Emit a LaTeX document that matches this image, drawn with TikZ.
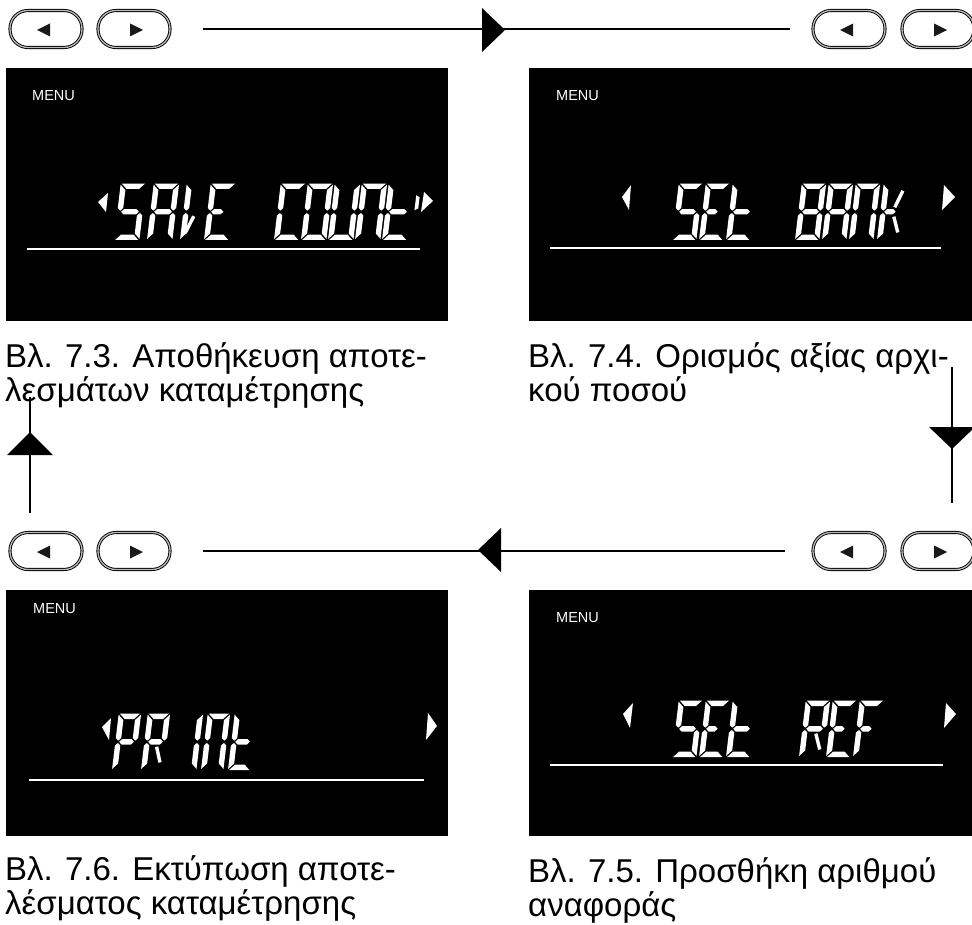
\documentclass[tikz,border=0pt]{standalone}
\usepackage{fontspec}
\setmainfont{Liberation Sans}
\usetikzlibrary{calc}
% LCD segment geometry
\def\lcdW{20}
\def\lcdH{51}
\def\lcdhh{2.7}
\def\lcdgp{1.1}
\def\lcdslant{0.12}
\newcommand\lcdHseg[3]{\fill[white] ({#1+\lcdgp},{#3}) -- ({#1+\lcdgp+\lcdhh},{#3+\lcdhh}) -- ({#2-\lcdgp-\lcdhh},{#3+\lcdhh}) -- ({#2-\lcdgp},{#3}) -- ({#2-\lcdgp-\lcdhh},{#3-\lcdhh}) -- ({#1+\lcdgp+\lcdhh},{#3-\lcdhh}) -- cycle;}
\newcommand\lcdDseg[4]{\draw[white, line width=3.4pt, shorten <=5pt, shorten >=5pt] (#1,#2) -- (#3,#4);}
% mitred outer segments
\newcommand\lcdSa{\fill[white] ({-\lcdhh+\lcdgp},{\lcdH+\lcdhh}) -- ({\lcdW+\lcdhh-\lcdgp},{\lcdH+\lcdhh}) -- ({\lcdW-\lcdhh-\lcdgp},{\lcdH-\lcdhh}) -- ({\lcdhh+\lcdgp},{\lcdH-\lcdhh}) -- cycle;}
\newcommand\lcdSd{\fill[white] ({-\lcdhh+\lcdgp},{-\lcdhh}) -- ({\lcdW+\lcdhh-\lcdgp},{-\lcdhh}) -- ({\lcdW-\lcdhh-\lcdgp},{\lcdhh}) -- ({\lcdhh+\lcdgp},{\lcdhh}) -- cycle;}
\newcommand\lcdSf{\fill[white] ({-\lcdhh},{\lcdH+\lcdhh-\lcdgp}) -- ({\lcdhh},{\lcdH-\lcdhh-\lcdgp}) -- ({\lcdhh},{\lcdH/2+\lcdgp+\lcdhh}) -- (0,{\lcdH/2+\lcdgp}) -- ({-\lcdhh},{\lcdH/2+\lcdgp+\lcdhh}) -- cycle;}
\newcommand\lcdSe{\fill[white] ({-\lcdhh},{-\lcdhh+\lcdgp}) -- ({\lcdhh},{\lcdhh+\lcdgp}) -- ({\lcdhh},{\lcdH/2-\lcdgp-\lcdhh}) -- (0,{\lcdH/2-\lcdgp}) -- ({-\lcdhh},{\lcdH/2-\lcdgp-\lcdhh}) -- cycle;}
\newcommand\lcdSb{\fill[white] ({\lcdW+\lcdhh},{\lcdH+\lcdhh-\lcdgp}) -- ({\lcdW-\lcdhh},{\lcdH-\lcdhh-\lcdgp}) -- ({\lcdW-\lcdhh},{\lcdH/2+\lcdgp+\lcdhh}) -- (\lcdW,{\lcdH/2+\lcdgp}) -- ({\lcdW+\lcdhh},{\lcdH/2+\lcdgp+\lcdhh}) -- cycle;}
\newcommand\lcdSc{\fill[white] ({\lcdW+\lcdhh},{-\lcdhh+\lcdgp}) -- ({\lcdW-\lcdhh},{\lcdhh+\lcdgp}) -- ({\lcdW-\lcdhh},{\lcdH/2-\lcdgp-\lcdhh}) -- (\lcdW,{\lcdH/2-\lcdgp}) -- ({\lcdW+\lcdhh},{\lcdH/2-\lcdgp-\lcdhh}) -- cycle;}
\newcommand\lcdSg{\lcdHseg{0}{\lcdW}{\lcdH/2}}
\newcommand\lcdSgs{\lcdHseg{0}{0.72*\lcdW}{\lcdH/2}}
\newcommand\lcdSj{\lcdDseg{\lcdW/2}{\lcdH/2}{\lcdW}{\lcdH}}
\newcommand\lcdSk{\lcdDseg{0}{0}{\lcdW/2}{\lcdH/2}}
\newcommand\lcdSm{\lcdDseg{\lcdW/2}{\lcdH/2}{\lcdW}{0}}
% letters
\newcommand\lcdLS{\lcdSa\lcdSf\lcdSg\lcdSc\lcdSd}
\newcommand\lcdLA{\lcdSa\lcdSb\lcdSc\lcdSe\lcdSf\lcdSg}
\newcommand\lcdLV{\lcdSf\lcdSe\lcdSk}
\newcommand\lcdLE{\lcdSa\lcdSf\lcdSe\lcdSd\lcdSgs}
\newcommand\lcdLC{\lcdSa\lcdSf\lcdSe\lcdSd}
\newcommand\lcdLO{\lcdSa\lcdSb\lcdSc\lcdSd\lcdSe\lcdSf}
\newcommand\lcdLU{\lcdSb\lcdSc\lcdSd\lcdSe\lcdSf}
\newcommand\lcdLN{\lcdSa\lcdSb\lcdSc\lcdSe\lcdSf}
\newcommand\lcdLt{\lcdSf\lcdSe\lcdSg\lcdSd}
\newcommand\lcdLB{\lcdSa\lcdSb\lcdSc\lcdSd\lcdSe\lcdSf\lcdSg}
\newcommand\lcdLK{\lcdSf\lcdSe\lcdSgs\lcdSj\lcdSm}
\newcommand\lcdLP{\lcdSa\lcdSb\lcdSf\lcdSg\lcdSe}
\newcommand\lcdLR{\lcdSa\lcdSb\lcdSf\lcdSg\lcdSe\lcdSm}
\newcommand\lcdLI{\lcdSb\lcdSc}
\newcommand\lcdLF{\lcdSa\lcdSf\lcdSe\lcdSgs}
\newcommand\lcdTick{\fill[white] (-1.8,27) -- (1.8,29) -- (1.8,40) -- (-1.8,42) -- cycle;}
\newcommand\lcdChar[3]{\begin{scope}[shift={(#1,#2)}, x={(1pt,0pt)}, y={(\lcdslant pt,1pt)}]#3\end{scope}}
\begin{document}
\begin{tikzpicture}[x=1pt,y=-1pt,
  btn/.style={draw=black, line width=0.9pt, double=gray!55, double distance=1.3pt, rounded corners=18pt, minimum width=72pt, minimum height=37pt, inner sep=0pt},
  conn/.style={line width=2pt, black},
  head/.style={fill=black},
  screen/.style={fill=black},
  lcdrule/.style={white, line width=2pt},
  menu/.style={text=white, font=\fontsize{14.5}{16}\selectfont, anchor=base west, inner sep=0pt},
  captxt/.style={font=\fontsize{33}{35}\selectfont, anchor=base west, inner sep=0pt},
  ptr/.style={fill=white},
  tri/.style={fill=black!90}]
\useasboundingbox (0,0) rectangle (972,925);

% screens
\fill[screen] (6,68) rectangle (448,321);
\fill[screen] (529,68) rectangle (972,321);
\fill[screen] (6,590) rectangle (448,836);
\fill[screen] (529,590) rectangle (972,836);

% MENU labels
\node[menu] (m1) at (32,101) {MENU};
\node[menu] (m2) at (556,101) {MENU};
\node[menu] (m3) at (33,613) {MENU};
\node[menu] (m4) at (556,622) {MENU};

% underlines
\draw[lcdrule] (27,249) -- (420,249);
\draw[lcdrule] (550,248) -- (941,248);
\draw[lcdrule] (29,780) -- (424,780);
\draw[lcdrule] (550,765) -- (943,765);

% pointers
\fill[ptr] (108,193) -- (98,202) -- (106,212) -- cycle;
\fill[ptr] (424,192) -- (433,201) -- (421,212) -- cycle;
\fill[ptr] (631,185) -- (622,197) -- (629,210) -- cycle;
\fill[ptr] (944,185) -- (955,197) -- (942,210) -- cycle;
\fill[ptr] (111,718) -- (102,727) -- (109,740) -- cycle;
\fill[ptr] (428,713) -- (437,726) -- (426,740) -- cycle;
\fill[ptr] (633,703) -- (623,714) -- (630,728) -- cycle;
\fill[ptr] (946,703) -- (956,714) -- (944,728) -- cycle;

% SAVE COUNT
\def\lcdW{20}
\lcdChar{117}{237.3}{\lcdLS}
\lcdChar{150}{237.3}{\lcdLA}
\lcdChar{183}{237.3}{\lcdLV}
\lcdChar{207}{237.3}{\lcdLE}
\lcdChar{277}{237.3}{\lcdLC}
\lcdChar{304}{237.3}{\lcdLO}
\lcdChar{331}{237.3}{\lcdLU}
\lcdChar{358}{237.3}{\lcdLN}
\lcdChar{385}{237.3}{\lcdLt}
\lcdChar{413}{237.3}{\lcdTick}
% SEt BANK
\def\lcdW{19}
\lcdChar{675}{237.3}{\lcdLS}
\lcdChar{702}{237.3}{\lcdLE}
\lcdChar{729}{237.3}{\lcdLt}
\lcdChar{798}{237.3}{\lcdLB}
\lcdChar{825}{237.3}{\lcdLA}
\lcdChar{852}{237.3}{\lcdLN}
\lcdChar{880}{237.3}{\lcdLK}
% PR INt
\def\lcdW{17}
\lcdChar{115}{767.3}{\lcdLP}
\lcdChar{144}{767.3}{\lcdLR}
\lcdChar{177}{767.3}{\lcdLI}
\lcdChar{204}{767.3}{\lcdLN}
\lcdChar{231}{767.3}{\lcdLt}
% SEt REF
\def\lcdW{19}
\lcdChar{675}{754.3}{\lcdLS}
\lcdChar{702}{754.3}{\lcdLE}
\lcdChar{729}{754.3}{\lcdLt}
\lcdChar{802}{754.3}{\lcdLR}
\lcdChar{829}{754.3}{\lcdLE}
\lcdChar{856}{754.3}{\lcdLF}

% buttons
\node[btn] (tl1) at (46,29) {};
\node[btn] (tl2) at (134,29) {};
\node[btn] (tr1) at (849,29) {};
\node[btn] (tr2) at (938,29) {};
\node[btn] (bl1) at (46,551) {};
\node[btn] (bl2) at (134,551) {};
\node[btn] (br1) at (849,551) {};
\node[btn] (br2) at (938,551) {};
\foreach \b in {tl1,tr1,bl1,br1}{
  \fill[tri] ($(\b.center)+(-9,1)$) -- ++(13,-6.5) -- ++(0,13) -- cycle;}
\foreach \b in {tl2,tr2,bl2,br2}{
  \fill[tri] ($(\b.center)+(9,1)$) -- ++(-13,-6.5) -- ++(0,13) -- cycle;}

% captions
\node[captxt] (c1a) at (5,367) {Βλ. 7.3. Αποθήκευση αποτε-};
\node[captxt] (c1b) at (5,401) {λεσμάτων καταμέτρησης};
\node[captxt] (c2a) at (528,367) {Βλ. 7.4. Ορισμός αξίας αρχι-};
\node[captxt] (c2b) at (528,401) {κού ποσού};
\node[captxt] (c3a) at (5,880) {Βλ. 7.6. Εκτύπωση αποτε-};
\node[captxt] (c3b) at (5,914) {λέσματος καταμέτρησης};
\node[captxt] (c4a) at (528,882) {Βλ. 7.5. Προσθήκη αριθμού};
\node[captxt] (c4b) at (528,916) {αναφοράς};

% connectors
\coordinate (vt1) at (952,367);
\coordinate (vt2) at (952,503);
\coordinate (vl1) at (30,513);
\coordinate (vl2) at (30,397);
\draw[conn] ([xshift=33pt]tl2.east) -- ([xshift=-23pt]tr1.west);
\draw[conn] (vt1) -- (vt2);
\draw[conn] ([xshift=-28pt]br1.west) -- ([xshift=33pt]bl2.east);
\draw[conn] (vl1) -- (vl2);
% arrowheads
\fill[head] (482,8) -- (505,30) -- (482,52) -- cycle;
\fill[head] (929,427) -- (952,449) -- (975,427) -- cycle;
\fill[head] (501,528) -- (478,550) -- (501,572) -- cycle;
\fill[head] (7,455) -- (30,432) -- (53,455) -- cycle;
\end{tikzpicture}
\end{document}
